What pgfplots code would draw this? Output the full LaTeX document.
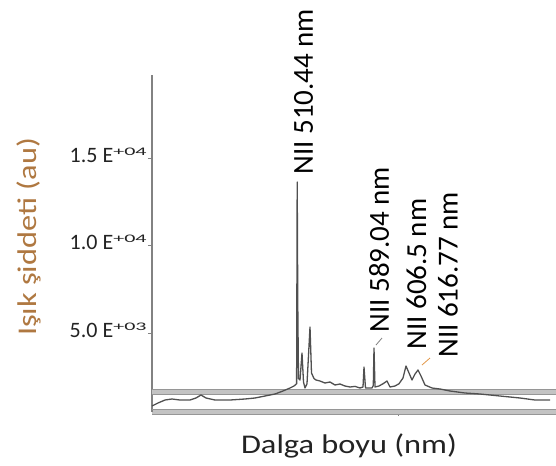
\documentclass[border=0pt]{standalone}
\usepackage{fontspec}
\setmainfont{Carlito}
\newfontfamily\widefont{Carlito}[FakeStretch=1.2]
\usepackage{graphicx}
\usepackage{pgfplots}
\pgfplotsset{compat=1.18}

\definecolor{spec}{RGB}{80,80,80}
\definecolor{axgray}{RGB}{130,130,130}
\definecolor{band}{RGB}{195,195,195}
\definecolor{bandedge}{RGB}{150,150,150}
\definecolor{ylab}{RGB}{175,120,65}
\definecolor{txt}{RGB}{35,35,35}
\definecolor{lead}{RGB}{225,150,70}

\newcommand{\sce}[2]{#1\hspace{2.5bp}E\raisebox{3.5bp}{\scalebox{1.9}[1]{\fontsize{5.8bp}{6bp}\selectfont #2}}}
\newcommand{\peakfont}{\fontsize{14.5bp}{17bp}\selectfont}

\begin{document}
\begin{tikzpicture}
\useasboundingbox (-76bp,-27bp) rectangle (202bp,206bp);
\begin{axis}[
    at={(0,0)}, anchor=south west,
    scale only axis,
    width=202bp, height=168.5bp,
    xmin=365, xmax=769,
    ymin=486, ymax=19743,
    axis x line=bottom, axis y line=left,
    x axis line style={-, draw=band, line width=2.5bp},
    y axis line style={-, draw=axgray, line width=0.7bp},
    clip=false,
    scaled y ticks=false,
    xtick={611}, xticklabels={},
    ytick={5000,10000,15000},
    yticklabels={\sce{5.0}{+03},\sce{1.0}{+04},\sce{1.5}{+04}},
    tick align=outside,
    major tick length=2bp,
    tick style={axgray, line width=0.5bp},
    yticklabel style={anchor=base east, inner sep=0pt, xshift=-0.5bp, yshift=-2bp,
        font=\fontsize{11bp}{12bp}\selectfont, text=txt},
]
% edges of the bottom band
\addplot[bandedge, line width=0.35bp] coordinates {(365,350) (769,350)};
\addplot[bandedge, line width=0.35bp] coordinates {(365,620) (769,620)};
% horizontal baseline band
\addplot[band, line width=2.5bp] coordinates {(365,1630) (769,1630)};
\addplot[bandedge, line width=0.35bp] coordinates {(365,1486) (769,1486)};
\addplot[bandedge, line width=0.35bp] coordinates {(365,1772) (769,1772)};

% spectrum
\addplot[spec, line width=0.65bp, line join=round] coordinates {
(365,829) (371,1000) (378,1171) (385,1229) (393,1171) (403,1171) (409,1286)
(414,1457) (419,1286) (428,1171) (443,1171) (458,1229) (468,1286) (478,1400)
(488,1514) (496,1686) (503,1857) (507,1971) (509.6,2100) (510.2,13630)
(510.8,6500) (511.5,2400) (513,2314) (515,3857) (516.5,2200) (518,1857)
(520,2100) (523,5343) (524.5,2714) (527,2400) (529,2314) (533,2257)
(538,2143) (543,2200) (548,2029) (553,2086) (558,1971) (563,1914) (568,1950)
(573,1857) (576,1914) (577,3057) (578.5,1857) (585,1857) (586.3,2000)
(587,4143) (588,1914) (592,1971) (596,2100) (600,2257) (603,1914) (608,1971)
(612,2100) (616,2429) (619,3114) (622,2714) (625,2314) (628,2657) (631,2886)
(634,2543) (638,2029) (645,1857) (653,1800) (663,1686) (678,1571) (693,1514)
(713,1400) (733,1286) (748,1171) (763,1171)};

% leader ticks
\addplot[axgray, line width=0.4bp] coordinates {(589,4314) (595,4714)};
\addplot[lead, line width=0.4bp] coordinates {(635,3171) (643,3571)};

% peak labels
\node[rotate=90, anchor=west, inner sep=0pt, text=black, font=\peakfont] at (axis cs:516.5,14029) {NII 510.44 nm};
\node[rotate=90, anchor=west, inner sep=0pt, text=black, font=\peakfont] at (axis cs:592,5000) {NII 589.04 nm};
\node[rotate=90, anchor=west, inner sep=0pt, text=black, font=\peakfont] at (axis cs:629.5,4029) {NII 606.5 nm};
\node[rotate=90, anchor=west, inner sep=0pt, text=black, font=\peakfont] at (axis cs:661,3571) {NII 616.77 nm};
\end{axis}

% axis titles
\node[rotate=90, inner sep=0pt, text=ylab, font=\widefont\fontsize{13.5bp}{16bp}\selectfont] at (-61.5bp,87.5bp) {Işık şiddeti (au)};
\node[anchor=base, inner sep=0pt, text=txt, font=\widefont\fontsize{13.5bp}{16bp}\selectfont] at (98.5bp,-20.5bp) {Dalga boyu (nm)};
\end{tikzpicture}
\end{document}
